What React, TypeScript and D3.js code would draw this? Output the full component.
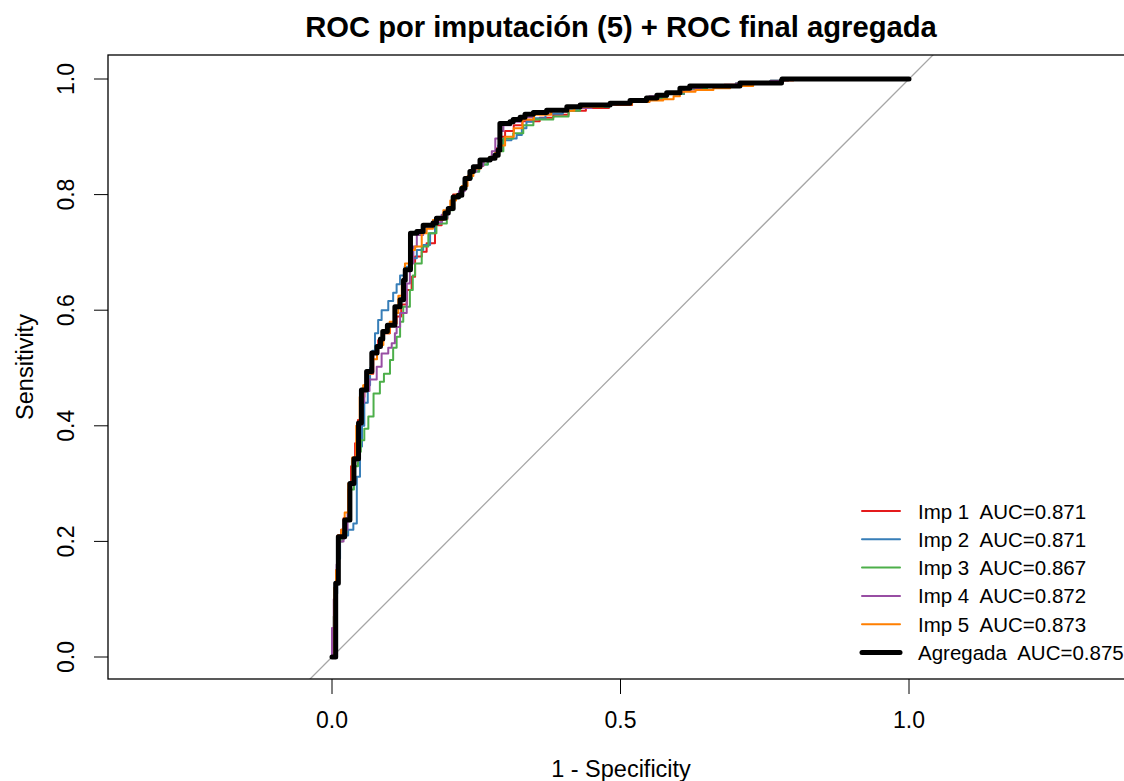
import React from "react";
import * as d3 from "d3";

// ---- Data ----
const seriesNames = ["Imp 1", "Imp 2", "Imp 3", "Imp 4", "Imp 5"];
const seriesAUC = ["0.871", "0.871", "0.867", "0.872", "0.873"];
const seriesColors = ["#E41A1C", "#377EB8", "#4DAF4A", "#984EA3", "#FF7F00"];
const aggregateName = "Agregada";
const aggregateAUC = "0.875";
const xTicks = [0, 0.5, 1];
const xTickLabels = ["0.0", "0.5", "1.0"];
const yTicks = [0, 0.2, 0.4, 0.6, 0.8, 1];
const yTickLabels = ["0.0", "0.2", "0.4", "0.6", "0.8", "1.0"];

type P = [number, number];

const imp1: P[] = [[0,0],[0.004,0.10],[0.007,0.15],[0.01,0.21],[0.016,0.22],[0.02,0.24],[0.028,0.29],[0.033,0.33],[0.04,0.37],[0.045,0.41],[0.05,0.45],[0.056,0.47],[0.06,0.49],[0.0715,0.525],[0.08,0.548],[0.09,0.56],[0.1005,0.577],[0.112,0.589],[0.12,0.61],[0.1295,0.635],[0.138,0.658],[0.144,0.693],[0.1555,0.701],[0.164,0.716],[0.1785,0.747],[0.19,0.758],[0.2,0.775],[0.21,0.80],[0.222,0.81],[0.23,0.83],[0.24,0.842],[0.25,0.85],[0.2625,0.86],[0.275,0.865],[0.285,0.88],[0.29,0.90],[0.3,0.91],[0.315,0.92],[0.33,0.927],[0.36,0.933],[0.3835,0.938],[0.41,0.945],[0.44,0.95],[0.48,0.955],[0.52,0.96],[0.55,0.966],[0.58,0.974],[0.61,0.982],[0.64,0.986],[0.68,0.99],[0.73,0.993],[0.78,0.998],[0.8,1],[1,1]];
const imp2: P[] = [[0,0],[0.005,0.11],[0.009,0.17],[0.014,0.205],[0.022,0.21],[0.028,0.22],[0.037,0.231],[0.043,0.312],[0.0485,0.364],[0.052,0.40],[0.056,0.44],[0.062,0.47],[0.066,0.5],[0.07,0.53],[0.0745,0.56],[0.08,0.583],[0.086,0.6],[0.0975,0.616],[0.106,0.63],[0.112,0.645],[0.118,0.66],[0.126,0.675],[0.135,0.69],[0.147,0.704],[0.158,0.713],[0.17,0.733],[0.1785,0.75],[0.19,0.76],[0.2,0.775],[0.21,0.795],[0.222,0.81],[0.232,0.828],[0.242,0.84],[0.255,0.852],[0.27,0.862],[0.28,0.87],[0.288,0.885],[0.294,0.894],[0.311,0.897],[0.32,0.903],[0.329,0.915],[0.337,0.926],[0.349,0.932],[0.37,0.94],[0.4,0.946],[0.43,0.952],[0.48,0.957],[0.52,0.962],[0.55,0.967],[0.58,0.974],[0.61,0.983],[0.65,0.987],[0.7,0.992],[0.76,0.997],[0.79,1],[1,1]];
const imp3: P[] = [[0,0],[0.003,0.07],[0.006,0.13],[0.01,0.2],[0.018,0.215],[0.025,0.24],[0.032,0.29],[0.038,0.33],[0.045,0.355],[0.05,0.375],[0.056,0.395],[0.063,0.416],[0.072,0.456],[0.083,0.476],[0.09,0.49],[0.1005,0.514],[0.106,0.535],[0.112,0.554],[0.118,0.58],[0.1235,0.606],[0.135,0.635],[0.14,0.66],[0.144,0.681],[0.1555,0.71],[0.167,0.733],[0.181,0.75],[0.199,0.773],[0.21,0.795],[0.222,0.81],[0.232,0.828],[0.242,0.84],[0.255,0.852],[0.27,0.862],[0.283,0.875],[0.297,0.897],[0.314,0.906],[0.3315,0.92],[0.349,0.93],[0.3835,0.935],[0.41,0.945],[0.43,0.952],[0.48,0.957],[0.52,0.962],[0.55,0.967],[0.58,0.975],[0.61,0.983],[0.65,0.987],[0.7,0.992],[0.76,0.997],[0.79,1],[1,1]];
const imp4: P[] = [[0,0],[0,0.05],[0.003,0.10],[0.008,0.16],[0.012,0.2],[0.02,0.22],[0.027,0.25],[0.032,0.3],[0.038,0.34],[0.045,0.4],[0.05,0.44],[0.056,0.46],[0.065,0.48],[0.0775,0.502],[0.086,0.525],[0.0975,0.535],[0.1035,0.543],[0.109,0.56],[0.112,0.571],[0.118,0.595],[0.1295,0.646],[0.135,0.681],[0.141,0.71],[0.147,0.73],[0.158,0.745],[0.175,0.752],[0.19,0.765],[0.2,0.777],[0.21,0.797],[0.22,0.806],[0.23,0.826],[0.24,0.84],[0.25,0.85],[0.262,0.86],[0.277,0.875],[0.283,0.897],[0.29,0.91],[0.297,0.92],[0.31,0.926],[0.33,0.934],[0.35,0.94],[0.38,0.945],[0.41,0.95],[0.45,0.955],[0.49,0.96],[0.52,0.965],[0.55,0.97],[0.58,0.977],[0.61,0.984],[0.64,0.988],[0.7,0.992],[0.76,0.997],[0.79,1],[1,1]];
const imp5: P[] = [[0,0],[0.004,0.12],[0.007,0.15],[0.01,0.21],[0.016,0.22],[0.022,0.25],[0.028,0.3],[0.035,0.345],[0.042,0.4],[0.048,0.45],[0.054,0.47],[0.06,0.49],[0.068,0.515],[0.078,0.54],[0.089,0.56],[0.1,0.58],[0.109,0.595],[0.115,0.625],[0.121,0.652],[0.1265,0.681],[0.135,0.704],[0.144,0.71],[0.1555,0.733],[0.164,0.741],[0.175,0.756],[0.193,0.773],[0.205,0.79],[0.215,0.80],[0.225,0.815],[0.235,0.832],[0.245,0.845],[0.258,0.858],[0.272,0.864],[0.283,0.872],[0.29,0.885],[0.3,0.9],[0.315,0.915],[0.33,0.93],[0.35,0.938],[0.38,0.945],[0.42,0.952],[0.47,0.956],[0.52,0.96],[0.55,0.963],[0.574,0.965],[0.592,0.97],[0.603,0.978],[0.63,0.981],[0.661,0.984],[0.69,0.988],[0.73,0.993],[0.78,0.998],[0.8,1],[1,1]];
const aggregate: P[] = [[0,0],[0.0064,0.1275],[0.011,0.208],[0.022,0.237],[0.031,0.30],[0.038,0.343],[0.046,0.405],[0.051,0.462],[0.06,0.494],[0.069,0.526],[0.078,0.537],[0.084,0.55],[0.088,0.563],[0.096,0.574],[0.109,0.606],[0.118,0.618],[0.124,0.652],[0.127,0.67],[0.136,0.733],[0.147,0.736],[0.158,0.747],[0.175,0.751],[0.181,0.759],[0.196,0.768],[0.2015,0.776],[0.21,0.796],[0.219,0.799],[0.225,0.811],[0.2305,0.828],[0.239,0.84],[0.245,0.848],[0.2565,0.86],[0.274,0.863],[0.2825,0.868],[0.288,0.877],[0.291,0.923],[0.3085,0.926],[0.314,0.93],[0.326,0.934],[0.3345,0.939],[0.349,0.942],[0.372,0.946],[0.407,0.952],[0.43,0.955],[0.482,0.958],[0.5165,0.963],[0.545,0.967],[0.563,0.972],[0.58,0.976],[0.603,0.984],[0.62,0.988],[0.707,0.993],[0.779,0.998],[0.78,1],[1,1]];

const impSeries = [imp1, imp2, imp3, imp4, imp5];

// ---- Layout ----
const W = 1124, H = 781;
const plotL = 108, plotR = 1135, plotT = 55, plotB = 679;
const FONT = "Liberation Sans, Arial, sans-serif";

export default function App() {
  const x = d3.scaleLinear().domain([0, 1]).range([332, 909]);
  const y = d3.scaleLinear().domain([0, 1]).range([657, 79]);
  const line = d3.line<P>().x(d => x(d[0])).y(d => y(d[1])).curve(d3.curveStepAfter);
  const diag = d3.line<P>().x(d => x(d[0])).y(d => y(d[1]));

  const legendX1 = 862, legendX2 = 900, legendTextX = 918;
  const legendY0 = 511, legendStep = 28.3;
  const legendItems = [
    ...seriesNames.map((n, i) => ({ label: `${n}  AUC=${seriesAUC[i]}`, color: seriesColors[i], w: 2 })),
    { label: `${aggregateName}  AUC=${aggregateAUC}`, color: "#000000", w: 5 },
  ];

  return (
    <svg width={W} height={H} style={{ position: "absolute", left: 0, top: 0, background: "#fff" }} fontFamily={FONT}>
      <defs>
        <clipPath id="plotclip">
          <rect x={plotL} y={plotT} width={plotR - plotL} height={plotB - plotT} />
        </clipPath>
      </defs>
      <rect x={0} y={0} width={W} height={H} fill="#fff" />
      <text x={621} y={37} textAnchor="middle" fontSize={29.2} fontWeight="bold">ROC por imputación (5) + ROC final agregada</text>

      <g clipPath="url(#plotclip)">
        <path d={diag([[-0.1, -0.1], [1.1, 1.1]]) || ""} stroke="#a6a6a6" strokeWidth={1.3} fill="none" />
        {impSeries.map((s, i) => (
          <path key={i} d={line(s) || ""} stroke={seriesColors[i]} strokeWidth={2} fill="none" strokeLinejoin="round" strokeLinecap="round" />
        ))}
        <path d={line(aggregate) || ""} stroke="#000" strokeWidth={5} fill="none" strokeLinejoin="round" strokeLinecap="round" />
      </g>

      {/* box */}
      <rect x={plotL} y={plotT} width={plotR - plotL} height={plotB - plotT} fill="none" stroke="#000" strokeWidth={1.3} />

      {/* x axis */}
      {xTicks.map((t, i) => (
        <g key={i}>
          <line x1={x(t)} x2={x(t)} y1={plotB} y2={plotB + 15} stroke="#000" strokeWidth={1} />
          <text x={x(t)} y={728} textAnchor="middle" fontSize={23}>{xTickLabels[i]}</text>
        </g>
      ))}
      <text x={621} y={777} textAnchor="middle" fontSize={23.5}>1 - Specificity</text>

      {/* y axis */}
      {yTicks.map((t, i) => (
        <g key={i}>
          <line x1={plotL - 14} x2={plotL} y1={y(t)} y2={y(t)} stroke="#000" strokeWidth={1} />
          <text transform={`translate(${74},${y(t)}) rotate(-90)`} textAnchor="middle" fontSize={23}>{yTickLabels[i]}</text>
        </g>
      ))}
      <text transform={`translate(${33},${(plotT + plotB) / 2}) rotate(-90)`} textAnchor="middle" fontSize={23.5}>Sensitivity</text>

      {/* legend */}
      {legendItems.map((it, i) => {
        const ly = legendY0 + i * legendStep;
        return (
          <g key={i}>
            <line x1={legendX1} x2={legendX2} y1={ly} y2={ly} stroke={it.color} strokeWidth={it.w} strokeLinecap="round" />
            <text x={legendTextX} y={ly} dominantBaseline="central" fontSize={20.5} style={{ whiteSpace: "pre" }}>{it.label}</text>
          </g>
        );
      })}
    </svg>
  );
}
